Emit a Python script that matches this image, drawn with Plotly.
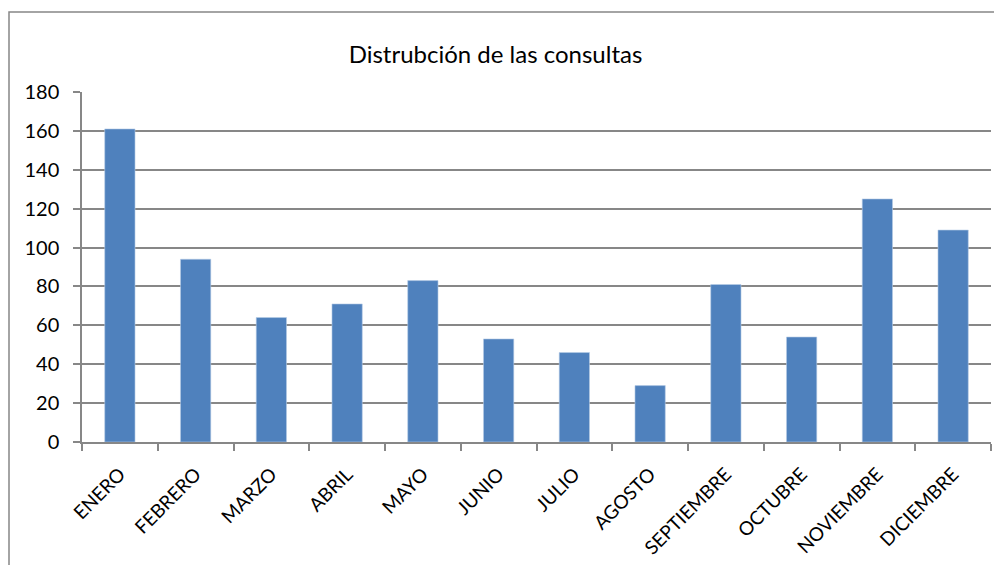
import plotly.graph_objects as go

months = ["ENERO", "FEBRERO", "MARZO", "ABRIL", "MAYO", "JUNIO", "JULIO",
          "AGOSTO", "SEPTIEMBRE", "OCTUBRE", "NOVIEMBRE", "DICIEMBRE"]
consultas = [161, 94, 64, 71, 83, 53, 46, 29, 81, 54, 125, 109]
y_ticks = [0, 20, 40, 60, 80, 100, 120, 140, 160, 180]
title_text = "Distrubción de las consultas"

FONT = "Lato, 'Open Sans', sans-serif"
GRAY = "#878787"

# page body has an 8px margin; figure sized/placed to compensate
W, H = 994, 557
L, T = 74, 84
PW, PH = 909, 350

fig = go.Figure(go.Bar(
    x=months, y=consultas,
    marker=dict(color="#4F81BD", line=dict(color="#B9CDE5", width=0.6)),
))

fig.update_layout(
    width=W, height=H,
    margin=dict(l=L, r=W - L - PW, t=T, b=H - T - PH),
    paper_bgcolor="white", plot_bgcolor="white",
    bargap=0.6,
    showlegend=False,
    font=dict(family=FONT, color="black", size=18),
    title=dict(text=title_text, xref="container", yref="container",
               x=(495.5 - 8) / W, y=1 - (55 - 8) / H, xanchor="center", yanchor="middle",
               font=dict(family=FONT, size=24, color="black")),
    xaxis=dict(
        automargin=False,
        tickangle=-45, tickson="boundaries", ticks="outside", ticklen=7,
        tickcolor=GRAY, tickwidth=1.5, showline=True, linecolor=GRAY, linewidth=1.5,
        showgrid=False, tickfont=dict(size=19), ticklabelstandoff=12,
    ),
    yaxis=dict(
        automargin=False,
        range=[0, 180], tickvals=y_ticks, ticks="outside", ticklen=7,
        tickcolor=GRAY, tickwidth=1.5, showline=True, linecolor=GRAY, linewidth=1.5,
        showgrid=True, gridcolor=GRAY, gridwidth=1.5, zeroline=False,
        tickfont=dict(size=20), ticklabelstandoff=10,
    ),
    shapes=[dict(type="rect", xref="paper", yref="paper",
                 x0=(1 - L) / PW, x1=1.2, y0=-0.6, y1=(PH + T - 4) / PH,
                 line=dict(color=GRAY, width=1.5), fillcolor="rgba(0,0,0,0)",
                 layer="below")],
)

fig.write_html("out.html")
